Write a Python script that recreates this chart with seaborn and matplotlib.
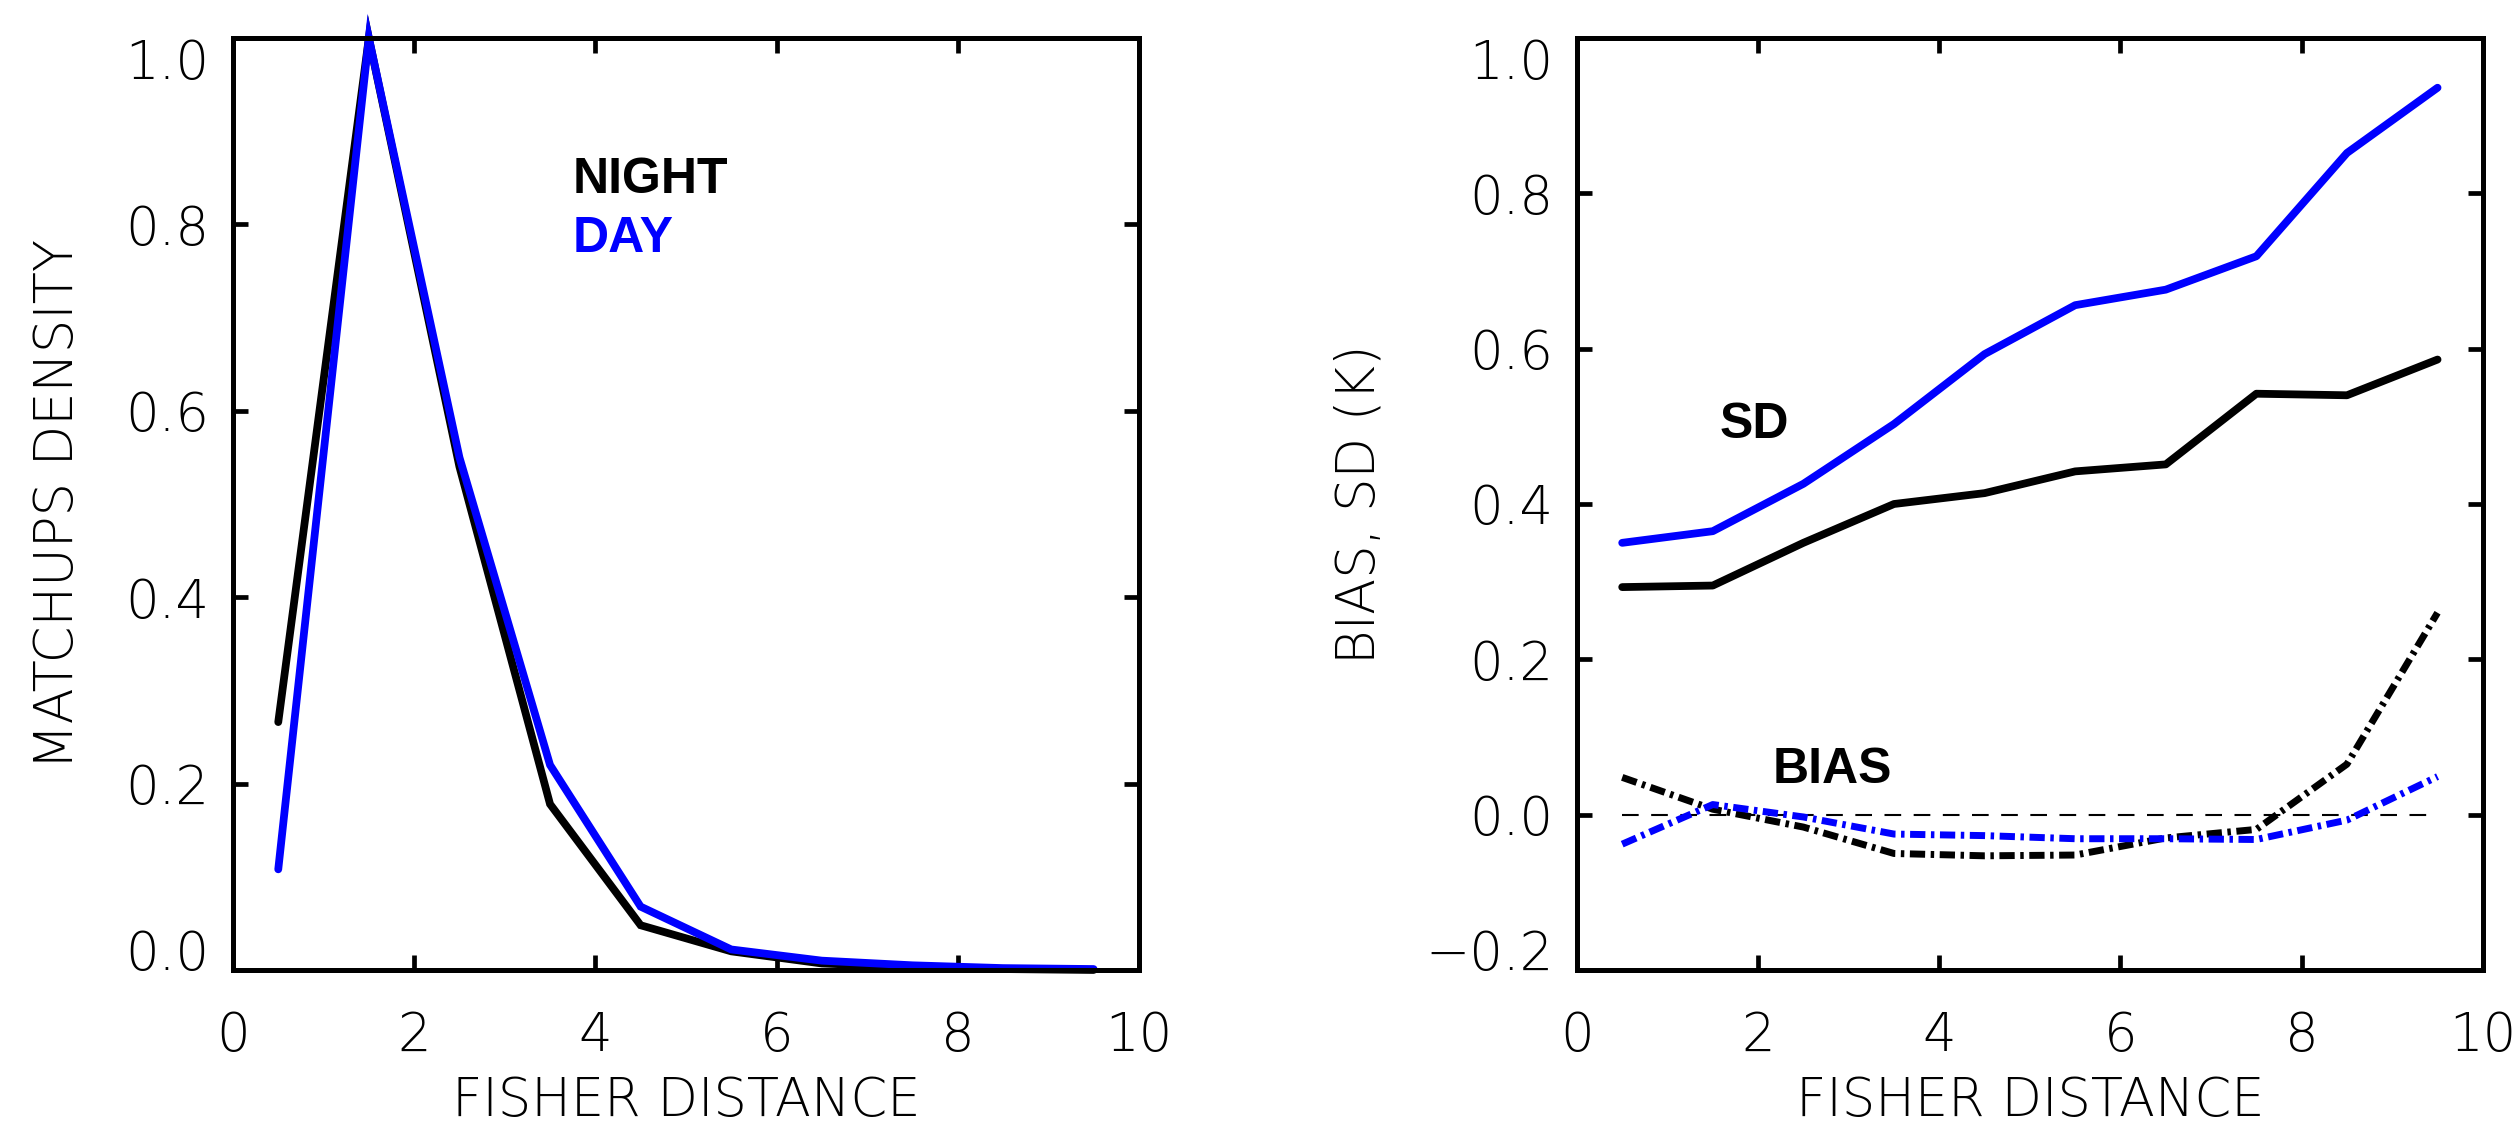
import matplotlib
matplotlib.use("Agg")
import matplotlib.pyplot as plt
import seaborn as sns

# ---------------- data ----------------
fisher_distance = [0.5, 1.5, 2.5, 3.5, 4.5, 5.5, 6.5, 7.5, 8.5, 9.5]

density_night = [0.266, 1.0, 0.54, 0.178, 0.048, 0.020, 0.007, 0.003, 0.001, 0.0]
density_day = [0.108, 1.0, 0.55, 0.220, 0.068, 0.022, 0.010, 0.005, 0.002, 0.001]

sd_night = [0.293, 0.295, 0.350, 0.400, 0.414, 0.442, 0.451, 0.542, 0.540, 0.586]
sd_day = [0.350, 0.365, 0.426, 0.503, 0.593, 0.656, 0.676, 0.719, 0.852, 0.936]

bias_night = [0.048, 0.007, -0.016, -0.050, -0.053, -0.052, -0.030, -0.019, 0.065, 0.260]
bias_day = [-0.038, 0.013, -0.003, -0.025, -0.027, -0.031, -0.031, -0.032, -0.007, 0.049]

x_ticks = [0, 2, 4, 6, 8, 10]
x_tick_labels = ["0", "2", "4", "6", "8", "10"]
density_ticks = [0.0, 0.2, 0.4, 0.6, 0.8, 1.0]
density_tick_labels = ["0.0", "0.2", "0.4", "0.6", "0.8", "1.0"]
bias_ticks = [-0.2, 0.0, 0.2, 0.4, 0.6, 0.8, 1.0]
bias_tick_labels = ["\u22120.2", "0.0", "0.2", "0.4", "0.6", "0.8", "1.0"]

# ---------------- style ----------------
sns.set_theme(style="ticks", rc={
    "axes.edgecolor": "black", "xtick.color": "black", "ytick.color": "black",
    "text.color": "black", "axes.labelcolor": "black", "axes.facecolor": "white",
    "figure.facecolor": "white",
})
plt.rcParams["font.family"] = ["DejaVu Sans"]
plt.rcParams["font.weight"] = "light"
plt.rcParams["axes.labelweight"] = "light"

LABEL_FS = 38
NOTE_FS = 36
BOLD_FONT = ["Liberation Sans", "DejaVu Sans"]
BLUE = "#0000ff"
SOLID_LW = 5.6
BIAS_LW = 5.0

fig = plt.figure(figsize=(25.13, 11.25), dpi=100)
ax1 = fig.add_axes([0.0927, 0.1378, 0.3605, 0.8284])
ax2 = fig.add_axes([0.6275, 0.1378, 0.3605, 0.8284])


def style_axes(ax, yticks, ylabels, ylim, ylab, ylab_x):
    ax.set_xlim(0, 10)
    ax.set_ylim(*ylim)
    ax.set_xticks(x_ticks)
    ax.set_xticklabels(x_tick_labels)
    ax.set_yticks(yticks)
    ax.set_yticklabels(ylabels)
    ax.tick_params(direction="in", length=10.8, width=3.4, top=True, right=True,
                   labelsize=LABEL_FS)
    ax.tick_params(axis="x", pad=29)
    ax.tick_params(axis="y", pad=17)
    for s in ax.spines.values():
        s.set_visible(True)
        s.set_linewidth(3.6)
        s.set_color("black")
    ax.grid(False)
    ax.set_xlabel("FISHER DISTANCE", fontsize=LABEL_FS, fontweight="light")
    ax.xaxis.set_label_coords(0.5, -0.1127)
    ax.set_ylabel(ylab, fontsize=LABEL_FS, fontweight="light", va="center")
    ax.yaxis.set_label_coords(ylab_x, 0.5)
    ylbls = ax.get_yticklabels()
    ylbls[-1].set_va("top")
    ylbls[0].set_va("baseline")


# ---------------- left panel: density ----------------
sns.lineplot(x=fisher_distance, y=density_night, color="black", lw=SOLID_LW, ax=ax1,
             errorbar=None, sort=False, clip_on=False, solid_joinstyle="miter")
sns.lineplot(x=fisher_distance, y=density_day, color=BLUE, lw=SOLID_LW, ax=ax1,
             errorbar=None, sort=False, clip_on=False, solid_joinstyle="miter")
style_axes(ax1, density_ticks, density_tick_labels, (0.0, 1.0),
           "MATCHUPS DENSITY", -0.193)
ax1.text(3.75, 0.834, "NIGHT", fontsize=NOTE_FS, fontweight="bold",
         family=BOLD_FONT, color="black", ha="left", va="baseline")
ax1.text(3.75, 0.770, "DAY", fontsize=NOTE_FS, fontweight="bold",
         family=BOLD_FONT, color=BLUE, ha="left", va="baseline")

# ---------------- right panel: bias / SD ----------------
ax2.hlines(0.0, fisher_distance[0], fisher_distance[-1], colors="black",
           linewidth=1.5, linestyles=(0, (8, 6)), zorder=1)
sns.lineplot(x=fisher_distance, y=sd_day, color=BLUE, lw=SOLID_LW, ax=ax2,
             errorbar=None, sort=False)
sns.lineplot(x=fisher_distance, y=sd_night, color="black", lw=SOLID_LW, ax=ax2,
             errorbar=None, sort=False)
dashdot = (0, (2.2, 0.8, 0.5, 0.8))
sns.lineplot(x=fisher_distance, y=bias_night, color="black", lw=BIAS_LW, ax=ax2,
             errorbar=None, sort=False, linestyle=dashdot)
sns.lineplot(x=fisher_distance, y=bias_day, color=BLUE, lw=BIAS_LW, ax=ax2,
             errorbar=None, sort=False, linestyle=dashdot)
style_axes(ax2, bias_ticks, bias_tick_labels, (-0.2, 1.0),
           "BIAS, SD (K)", -0.2395)
ax2.text(1.58, 0.485, "SD", fontsize=NOTE_FS, fontweight="bold",
         family=BOLD_FONT, color="black", ha="left", va="baseline")
ax2.text(2.16, 0.041, "BIAS", fontsize=NOTE_FS, fontweight="bold",
         family=BOLD_FONT, color="black", ha="left", va="baseline")

fig.savefig("out.png", dpi=100, facecolor="white")
